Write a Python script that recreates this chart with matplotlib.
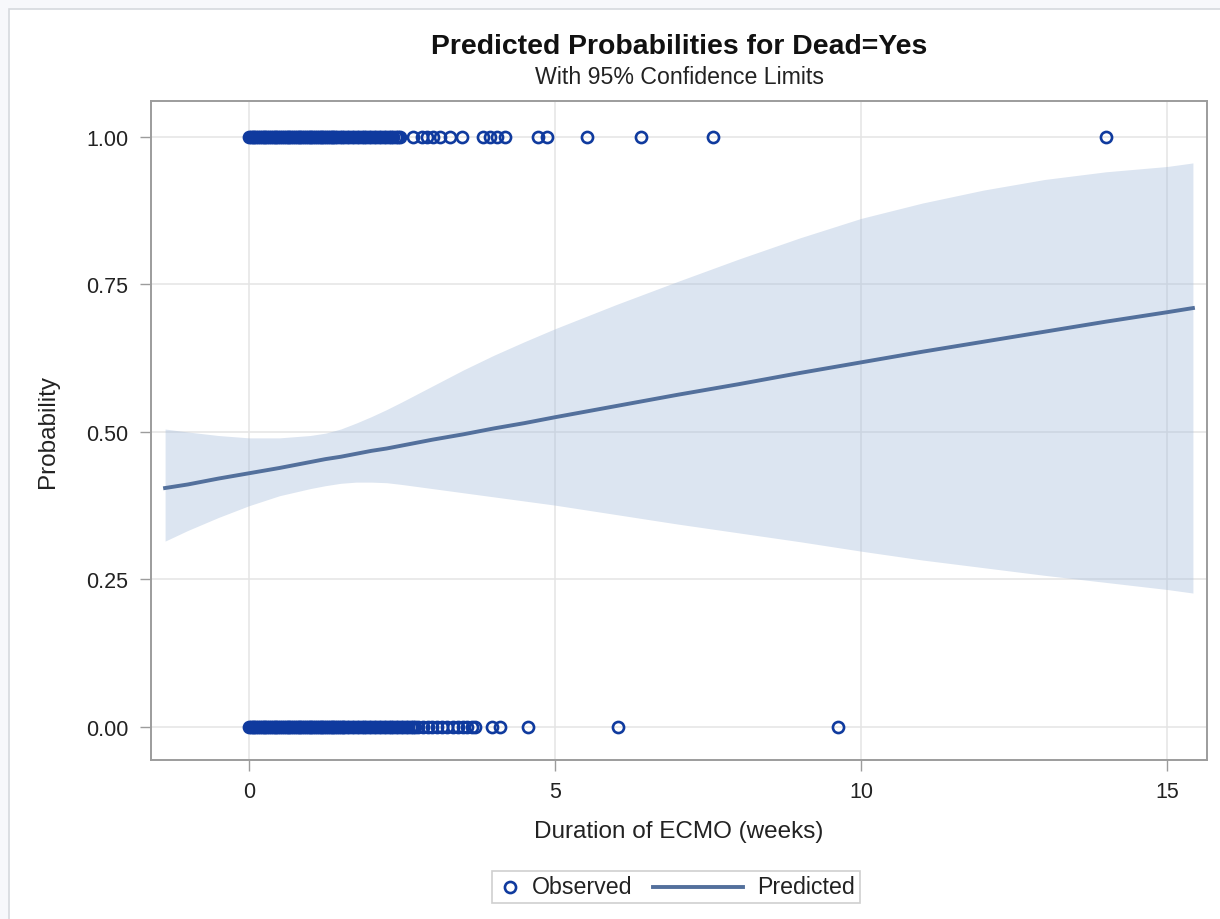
import matplotlib

matplotlib.use("Agg")
import matplotlib.pyplot as plt
from matplotlib.lines import Line2D
from matplotlib.patches import Rectangle
from matplotlib.offsetbox import AnchoredOffsetbox, DrawingArea, HPacker, TextArea

plt.rcParams["font.family"] = ["Liberation Sans", "DejaVu Sans"]

# observed outcomes: duration of ECMO (weeks) for patients who died / survived
dead_weeks = [
    0.00, 0.03, 0.06, 0.09, 0.12, 0.15, 0.18, 0.21, 0.24, 0.27, 0.30, 0.33,
    0.36, 0.39, 0.42, 0.45, 0.48, 0.51, 0.54, 0.57, 0.60, 0.63, 0.66, 0.69,
    0.72, 0.75, 0.78, 0.81, 0.84, 0.87, 0.90, 0.93, 0.96, 0.99, 1.02, 1.05,
    1.08, 1.11, 1.14, 1.17, 1.20, 1.23, 1.26, 1.29, 1.32, 1.35, 1.38, 1.41,
    1.44, 1.48, 1.52, 1.56, 1.60, 1.64, 1.68, 1.72, 1.76, 1.80, 1.84, 1.88,
    1.92, 1.96, 2.00, 2.04, 2.08, 2.12, 2.16, 2.20, 2.24, 2.28, 2.32, 2.36,
    2.40, 2.44, 2.47,
    2.68, 2.83, 2.91, 3.00, 3.12, 3.28, 3.48, 3.82, 3.94, 4.05, 4.18,
    4.72, 4.87, 5.52, 6.41, 7.58, 14.00,
]
alive_weeks = [
    0.00, 0.03, 0.06, 0.09, 0.12, 0.15, 0.18, 0.21, 0.24, 0.27, 0.30, 0.33,
    0.36, 0.39, 0.42, 0.45, 0.48, 0.51, 0.54, 0.57, 0.60, 0.63, 0.66, 0.69,
    0.72, 0.75, 0.78, 0.81, 0.84, 0.87, 0.90, 0.93, 0.96, 0.99, 1.02, 1.05,
    1.08, 1.11, 1.14, 1.17, 1.20, 1.23, 1.26, 1.29, 1.32, 1.35, 1.38, 1.41,
    1.44, 1.47, 1.50, 1.53, 1.56, 1.60, 1.64, 1.68, 1.72, 1.76, 1.80, 1.84,
    1.88, 1.92, 1.96, 2.00, 2.04, 2.08, 2.12, 2.16, 2.20, 2.24, 2.28, 2.32,
    2.36, 2.40, 2.44, 2.48, 2.52, 2.56, 2.60, 2.64, 2.68, 2.72, 2.76,
    2.84, 2.92, 2.99, 3.08, 3.16, 3.24, 3.33, 3.41, 3.49, 3.57, 3.64, 3.70,
    3.97, 4.10, 4.56, 6.03, 9.62,
]

# fitted model: predicted probability with 95% confidence limits
fit_weeks = [-1.37, -1.0, -0.5, 0.0, 0.5, 1.0, 1.25, 1.5, 1.75, 2.0, 2.25,
             2.5, 3.0, 3.5, 4.0, 4.5, 5.0, 6.0, 7.0, 8.0, 9.0, 10.0, 11.0,
             12.0, 13.0, 14.0, 15.0, 15.42]
predicted = [0.405, 0.411, 0.421, 0.430, 0.439, 0.449, 0.454, 0.458, 0.463,
             0.468, 0.472, 0.477, 0.487, 0.496, 0.506, 0.515, 0.525, 0.544,
             0.563, 0.581, 0.600, 0.618, 0.636, 0.653, 0.670, 0.687, 0.703,
             0.710]
upper_cl = [0.505, 0.500, 0.494, 0.490, 0.490, 0.494, 0.498, 0.505, 0.515,
            0.526, 0.538, 0.551, 0.578, 0.605, 0.630, 0.653, 0.675, 0.716,
            0.755, 0.793, 0.829, 0.862, 0.888, 0.910, 0.928, 0.941, 0.950,
            0.956]
lower_cl = [0.315, 0.333, 0.355, 0.375, 0.392, 0.404, 0.409, 0.413, 0.415,
            0.415, 0.414, 0.411, 0.404, 0.397, 0.390, 0.383, 0.376, 0.360,
            0.344, 0.329, 0.314, 0.298, 0.283, 0.270, 0.257, 0.245, 0.233,
            0.227]

x_ticks = [0, 5, 10, 15]
y_ticks = [0.0, 0.25, 0.5, 0.75, 1.0]
y_tick_labels = ["0.00", "0.25", "0.50", "0.75", "1.00"]

MARKER_COLOR = "#0f3a9e"
LINE_COLOR = "#53709c"
BAND_COLOR = "#a8bedc"
FRAME_COLOR = "#9c9c9c"
MARKER_SIZE = 8.0
MARKER_EDGE = 1.9

fig = plt.figure(figsize=(12.2, 9.2), dpi=100, facecolor="#f7f8fb")
fig.patches.append(Rectangle((9 / 1220, -0.1), 1.2, 1.1 - 10 / 920,
                             transform=fig.transFigure, facecolor="white",
                             edgecolor="#d6d9de", linewidth=1.2, zorder=-10))

ax = fig.add_axes([151 / 1220, 1 - 761 / 920, (1207 - 151) / 1220, (761 - 102) / 920])
ax.set_facecolor("white")

ax.fill_between(fit_weeks, lower_cl, upper_cl, color=BAND_COLOR, alpha=0.4,
                linewidth=0, zorder=2)
ax.plot(fit_weeks, predicted, color=LINE_COLOR, linewidth=2.8, zorder=3)
ax.plot(dead_weeks, [1.0] * len(dead_weeks), linestyle="none", marker="o",
        markersize=MARKER_SIZE, markerfacecolor="none", markeredgecolor=MARKER_COLOR,
        markeredgewidth=MARKER_EDGE, zorder=4)
ax.plot(alive_weeks, [0.0] * len(alive_weeks), linestyle="none", marker="o",
        markersize=MARKER_SIZE, markerfacecolor="none", markeredgecolor=MARKER_COLOR,
        markeredgewidth=MARKER_EDGE, zorder=4)

ax.set_xlim(-1.60, 15.65)
ax.set_ylim(-0.056, 1.061)
ax.set_xticks(x_ticks)
ax.set_yticks(y_ticks)
ax.set_yticklabels(y_tick_labels)
ax.grid(True, color="#e4e4e4", linewidth=1.1, zorder=1)
ax.set_axisbelow(True)
ax.tick_params(direction="out", length=8, width=1, color=FRAME_COLOR,
               labelsize=15.5, pad=7, labelcolor="#222222")
ax.tick_params(axis="y", pad=8.5)
for spine in ax.spines.values():
    spine.set_color(FRAME_COLOR)
    spine.set_linewidth(1.4)

ax.set_xlabel("Duration of ECMO (weeks)", fontsize=17.5, color="#222222", labelpad=13)
ax.set_ylabel("Probability", fontsize=17.5, color="#222222", labelpad=19)

fig.text(679 / 1220, 1 - 47 / 920, "Predicted Probabilities for Dead=Yes",
         fontsize=20.4, fontweight="bold", ha="center", va="center", color="#111111")
fig.text(680 / 1220, 1 - 78 / 920, "With 95% Confidence Limits",
         fontsize=16.7, ha="center", va="center", color="#222222")

# legend strip below the plot
text_props = dict(fontsize=16.7, color="#222222")
marker_box = DrawingArea(25, 16)
marker_box.add_artist(Line2D([9], [8], marker="o", markersize=MARKER_SIZE,
                             markerfacecolor="none", markeredgecolor=MARKER_COLOR,
                             markeredgewidth=MARKER_EDGE))
line_box = DrawingArea(90, 16)
line_box.add_artist(Line2D([15, 80], [8, 8], color=LINE_COLOR, linewidth=2.8))
packed = HPacker(children=[marker_box, TextArea("Observed", textprops=text_props),
                           line_box, TextArea("Predicted", textprops=text_props)],
                 sep=0, align="center", pad=0)
legend_box = AnchoredOffsetbox(loc="center", child=packed, pad=0.35, borderpad=0,
                               bbox_to_anchor=(676 / 1220, 1 - 888 / 920),
                               bbox_transform=fig.transFigure, frameon=True)
legend_box.patch.set_edgecolor("#cfcfcf")
legend_box.patch.set_linewidth(1.2)
legend_box.patch.set_boxstyle("square", pad=0)
fig.add_artist(legend_box)

fig.savefig("out.png", dpi=100, facecolor=fig.get_facecolor())
